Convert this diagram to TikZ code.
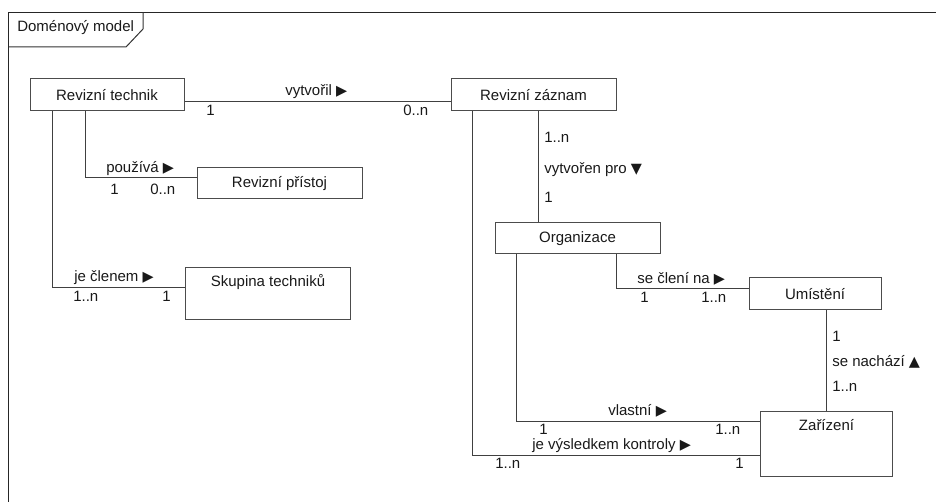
\documentclass[tikz,border=0pt]{standalone}
\usepackage{fontspec}
\setmainfont{Liberation Sans}
\newfontfamily\symfont{DejaVu Sans}
\usetikzlibrary{calc}
\newcommand{\tri}[1]{{\symfont\fontsize{10.8pt}{11pt}\selectfont #1}}
\begin{document}
\begin{tikzpicture}[x=0.75pt,y=-0.75pt,
  every node/.style={font=\fontsize{11.25pt}{13.5pt}\selectfont, text=black!90},
  cls/.style={draw=black!70, line width=0.75pt, inner sep=0pt, fill=white},
  assoc/.style={draw=black!75, line width=0.75pt},
  lbl/.style={anchor=base west, inner sep=0pt}]
\useasboundingbox (0,0) rectangle (936,502);
% frame
\draw[line width=0.9pt, black!85] (8.5,502) -- (8.5,12.5) -- (936,12.5);
\draw[line width=0.75pt, black!80] (8.5,47) -- (126,47) -- (143,29) -- (143,12.5);
\node[lbl] (title) at (17,32) {Doménový model};
% classes
\node[cls, minimum width=115.5pt, minimum height=24pt] (rt) at (107,95) {Revizní technik};
\node[cls, minimum width=123.75pt, minimum height=23.25pt] (rp) at (279.5,183.5) {Revizní přístoj};
\node[cls, anchor=north west, minimum width=123.75pt, text height=14.25pt, text depth=24.75pt] (st) at (185,267) {Skupina techniků};
\node[cls, minimum width=123.75pt, minimum height=24pt] (rz) at (533.5,95) {Revizní záznam};
\node[cls, minimum width=123.75pt, minimum height=23.25pt] (org) at (577.5,238.5) {Organizace};
\node[cls, minimum width=99pt, minimum height=24pt] (um) at (815,294) {Umístění};
\node[cls, anchor=north west, minimum width=99pt, text height=14.25pt, text depth=34.5pt] (zar) at (760,411) {Zařízení};
% associations
\draw[assoc] ([yshift=7.5pt]rt.south east) -- ([yshift=7.5pt]rz.south west);
\draw[assoc] ([xshift=42pt]rt.south west) |- ([yshift=-7.5pt]rp.north west);
\draw[assoc] ([xshift=17.25pt]rt.south west) |- ([yshift=-15.75pt]st.north west);
\coordinate (a) at ([xshift=66pt]rz.south west);
\draw[assoc] (a) -- (a |- org.north);
\draw[assoc] ([xshift=16.5pt]rz.south west) |- ([yshift=-33pt]zar.north west);
\draw[assoc] ([xshift=91.5pt]org.south west) |- ([yshift=-8.25pt]um.north west);
\draw[assoc] ([xshift=16.5pt]org.south west) |- ([yshift=-8.25pt]zar.north west);
\coordinate (b) at ([xshift=58.5pt]um.south west);
\draw[assoc] (b) -- (b |- zar.north);
% labels
\node[lbl] (l1) at (285,96) {vytvořil \tri{▶}};
\node[lbl] (l1a) at (206,116) {1};
\node[lbl] (l1b) at (403,116) {0..n};
\node[lbl] (l2) at (106,173) {používá \tri{▶}};
\node[lbl] (l2a) at (110,195) {1};
\node[lbl] (l2b) at (150,195) {0..n};
\node[lbl] (l3) at (74,282) {je členem \tri{▶}};
\node[lbl] (l3a) at (73,302) {1..n};
\node[lbl] (l3b) at (162,302) {1};
\node[lbl] (l4a) at (544,143) {1..n};
\node[lbl] (l4) at (544,174) {vytvořen pro \tri{▼}};
\node[lbl] (l4b) at (544,203) {1};
\node[lbl] (l5) at (637,284) {se člení na \tri{▶}};
\node[lbl] (l5a) at (640,303) {1};
\node[lbl] (l5b) at (701,303) {1..n};
\node[lbl] (l6a) at (832,342) {1};
\node[lbl] (l6) at (832,367) {se nachází \tri{▲}};
\node[lbl] (l6b) at (832,392) {1..n};
\node[lbl] (l7) at (608,416) {vlastní \tri{▶}};
\node[lbl] (l7a) at (539,435) {1};
\node[lbl] (l7b) at (715,435) {1..n};
\node[lbl] (l8) at (532,450) {je výsledkem kontroly \tri{▶}};
\node[lbl] (l8a) at (495,468) {1..n};
\node[lbl] (l8b) at (735,468) {1};
\end{tikzpicture}
\end{document}
